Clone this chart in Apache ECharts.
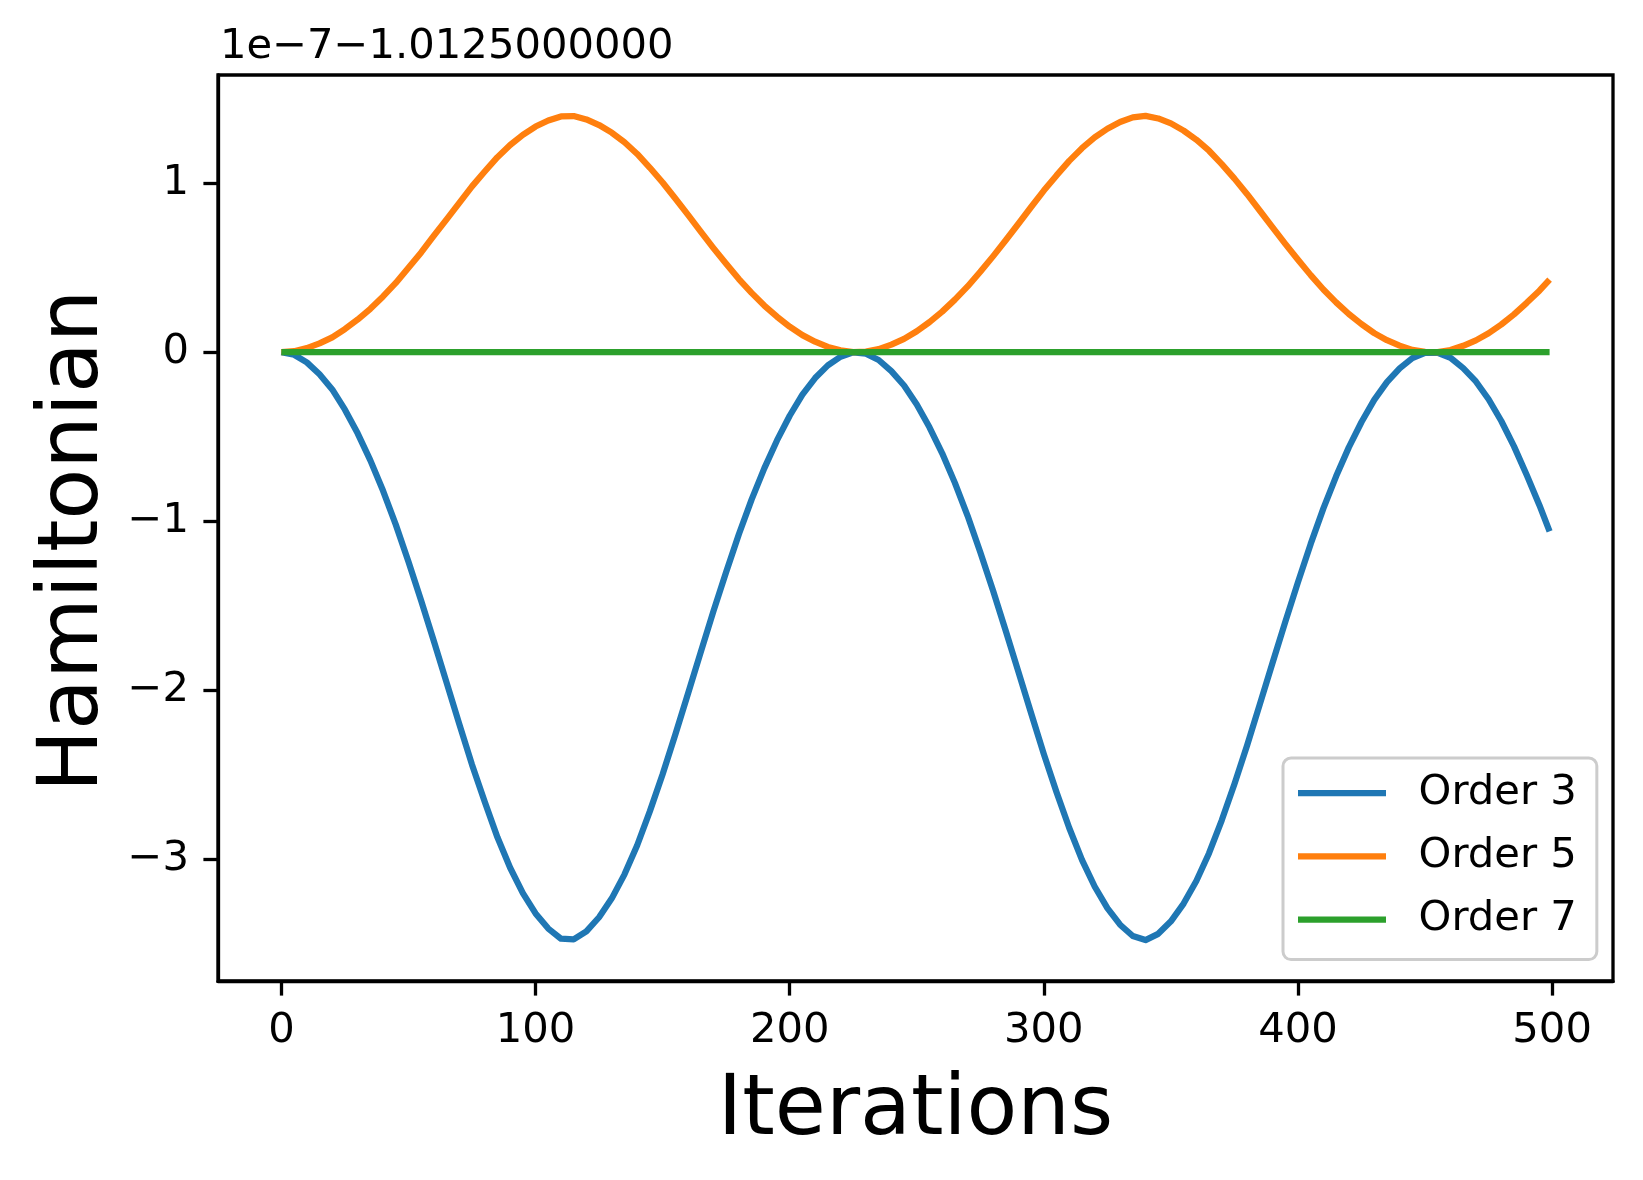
<!DOCTYPE html>
<html>
<head>
<meta charset="utf-8">
<script src="https://cdn.jsdelivr.net/npm/echarts@6/dist/echarts.min.js"></script>
<style>
html,body{margin:0;padding:0;background:#fff;}
#chart{width:1643px;height:1180px;}
</style>
</head>
<body>
<div id="chart"></div>
<script>
const iterations = [
  0,5,10,15,20,25,30,35,40,45,50,55,60,65,70,75,80,85,90,95,100,105,110,
  115,120,125,130,135,140,145,150,155,160,165,170,175,180,185,190,195,200,205,210,215,220,225,
  230,235,240,245,250,255,260,265,270,275,280,285,290,295,300,305,310,315,320,325,330,335,340,
  345,350,355,360,365,370,375,380,385,390,395,400,405,410,415,420,425,430,435,440,445,450,
  455,460,465,470,475,480,485,490,495,499];
const order3 = [
  0,-0.015,-0.06,-0.13,-0.22,-0.34,-0.48,-0.64,-0.82,-1.02,-1.24,-1.47,-1.71,-1.955,-2.20,-2.44,-2.66,-2.87,-3.05,-3.20,-3.32,-3.41,-3.47,
  -3.474,-3.426,-3.343,-3.231,-3.089,-2.917,-2.715,-2.497,-2.262,-2.019,-1.774,-1.532,-1.300,-1.077,-0.872,-0.687,-0.522,-0.376,-0.251,-0.153,-0.078,-0.027,-0.001,
  -0.009,-0.046,-0.112,-0.197,-0.309,-0.444,-0.598,-0.773,-0.968,-1.183,-1.410,-1.648,-1.891,-2.136,-2.378,-2.603,-2.815,-3.003,-3.161,-3.289,-3.387,-3.454,-3.478,
  -3.441,-3.367,-3.262,-3.128,-2.964,-2.769,-2.554,-2.325,-2.082,-1.837,-1.595,-1.360,-1.134,-0.924,-0.734,-0.563,-0.413,-0.282,-0.177,-0.096,-0.035,-0.004,
  -0.0035,-0.033,-0.094,-0.173,-0.278,-0.407,-0.557,-0.726,-0.905,-1.06];
const order5 = [
  0,0.006,0.024,0.052,0.088,0.137,0.193,0.257,0.33,0.41,0.50,0.59,0.69,0.786,0.884,0.981,1.069,1.154,1.226,1.286,1.335,1.371,1.395,
  1.397,1.377,1.344,1.299,1.242,1.173,1.091,1.004,0.909,0.812,0.713,0.616,0.523,0.433,0.351,0.276,0.210,0.151,0.101,0.062,0.031,0.011,0.0004,
  0.004,0.018,0.045,0.079,0.124,0.178,0.240,0.311,0.389,0.476,0.567,0.662,0.760,0.859,0.956,1.046,1.132,1.207,1.271,1.322,1.362,1.389,1.398,
  1.383,1.354,1.311,1.257,1.192,1.113,1.027,0.935,0.837,0.738,0.641,0.547,0.456,0.371,0.295,0.226,0.166,0.113,0.071,0.039,0.014,0.002,
  0.001,0.013,0.038,0.070,0.112,0.164,0.224,0.292,0.364,0.43];
const order7 = [
  0,0,0,0,0,0,0,0,0,0,0,0,0,0,0,0,0,0,0,0,0,0,0,
  0,0,0,0,0,0,0,0,0,0,0,0,0,0,0,0,0,0,0,0,0,0,0,
  0,0,0,0,0,0,0,0,0,0,0,0,0,0,0,0,0,0,0,0,0,0,0,
  0,0,0,0,0,0,0,0,0,0,0,0,0,0,0,0,0,0,0,0,0,0,
  0,0,0,0,0,0,0,0,0,0];
const seriesNames = ['Order 3','Order 5','Order 7'];
const xTicks = [0,100,200,300,400,500];
const yTicks = [-3,-2,-1,0,1];
const offsetText = '1e\u22127\u22121.0125000000';

const FONT = 'DejaVu Sans';
const colors = ['#1f77b4','#ff7f0e','#2ca02c'];
const fmt = v => (v < 0 ? '\u2212' + Math.abs(v) : String(v));

const chart = echarts.init(document.getElementById('chart'), null, {renderer:'canvas'});
const mk = (name, vals, i) => ({
  name: name,
  type: 'line',
  data: iterations.map((x, k) => [x, vals[k]]),
  showSymbol: false,
  symbol: 'none',
  smooth: false,
  color: colors[i],
  lineStyle: {width: 6.25, color: colors[i], cap: 'butt', join: 'round'},
  animation: false,
  z: 2 + i
});

chart.setOption({
  animation: false,
  textStyle: {fontFamily: FONT},
  grid: {left: 218, top: 75, width: 1395, height: 906, show: true, borderColor: '#000', borderWidth: 3.3, backgroundColor: 'transparent'},
  xAxis: {
    type: 'value', min: -24.95, max: 523.95, position: 'bottom',
    name: 'Iterations', nameLocation: 'middle', nameGap: 90,
    nameTextStyle: {fontSize: 83, color: '#000', fontFamily: FONT},
    axisLine: {show: true, onZero: false, lineStyle: {color: '#000', width: 3.3}},
    axisTick: {show: true, length: 14.6, lineStyle: {color: '#000', width: 3.3}, customValues: xTicks},
    axisLabel: {show: true, margin: 29, fontSize: 41.7, color: '#000', fontFamily: FONT, customValues: xTicks, formatter: fmt},
    splitLine: {show: false}
  },
  yAxis: {
    type: 'value', min: -3.72, max: 1.64, position: 'left',
    name: 'Hamiltonian', nameLocation: 'middle', nameGap: 94, nameRotate: 90,
    nameTextStyle: {fontSize: 83, color: '#000', fontFamily: FONT, padding: [0, 26, 0, 0]},
    axisLine: {show: true, onZero: false, lineStyle: {color: '#000', width: 3.3}},
    axisTick: {show: true, length: 14.6, lineStyle: {color: '#000', width: 3.3}, customValues: yTicks},
    axisLabel: {show: true, margin: 29, fontSize: 41.7, color: '#000', fontFamily: FONT, customValues: yTicks, formatter: fmt},
    splitLine: {show: false}
  },
  legend: {
    orient: 'vertical',
    left: 1283, top: 758,
    padding: [10, 20, 15, 15],
    itemWidth: 88, itemHeight: 6.25, itemGap: 13.3,
    icon: 'rect',
    backgroundColor: '#fff',
    borderColor: '#cccccc', borderWidth: 3, borderRadius: 8,
    textStyle: {fontSize: 41.7, color: '#000', fontFamily: FONT, lineHeight: 40, padding: [10, 0, 0, 27.6]},
    data: seriesNames
  },
  graphic: [{
    type: 'text', left: 220, top: 26,
    style: {text: offsetText, fontSize: 41.7, fontFamily: FONT, fill: '#000'}
  }],
  series: [mk(seriesNames[0], order3, 0), mk(seriesNames[1], order5, 1), mk(seriesNames[2], order7, 2)]
});
</script>
</body>
</html>
